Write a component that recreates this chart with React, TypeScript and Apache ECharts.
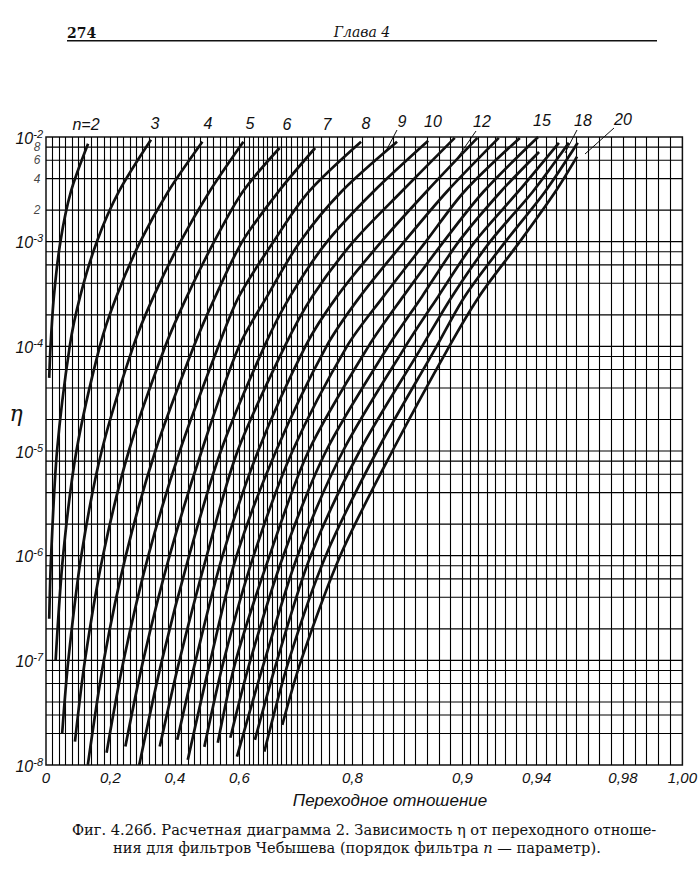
import React, { useEffect, useRef } from 'react';
import * as echarts from 'echarts';

// ---- axis definitions ----
const X_TICKS = [0, 0.2, 0.4, 0.6, 0.8, 0.9, 0.94, 0.98, 1.0];
const X_TICK_LABELS = ['0', '0,2', '0,4', '0,6', '0,8', '0,9', '0,94', '0,98', '1,00'];
// nonlinear transition-ratio scale of the chart paper: k -> position along the axis
const SCALE_K = [0, 0.6, 0.65, 0.7, 0.75, 0.8, 0.85, 0.9, 0.92, 0.94, 0.96, 0.98, 1.0];
const SCALE_POS = [0, 195, 219, 242, 270, 309, 361, 420, 453, 495, 535, 582, 642];
const Y_MIN = 1e-8;
const Y_MAX = 1e-2;
const Y_MINOR_LABELS = [2, 4, 6, 8];

// ---- curves: [transition ratio k, eta] ----
const CURVE_N2 = [[0.1306, 8.6e-3], [0.0773, 3e-3], [0.0447, 1e-3], [0.0245, 3e-4], [0.0141, 1e-4], [0.0100, 5e-5]];
const CURVE_N3 = [[0.3259, 9.4e-3], [0.2260, 3e-3], [0.1578, 1e-3], [0.1060, 3e-4], [0.0736, 1e-4], [0.0342, 1e-5], [0.0159, 1e-6], [0.0100, 2.5e-7]];
const CURVE_N4 = [[0.4854, 9e-3], [0.3789, 3e-3], [0.2926, 1e-3], [0.2187, 3e-4], [0.1670, 1e-4], [0.0944, 1e-5], [0.0531, 1e-6], [0.0299, 1e-7]];
const CURVE_N5 = [[0.6086, 9e-3], [0.5072, 3e-3], [0.4174, 1e-3], [0.3339, 3e-4], [0.2708, 1e-4], [0.1728, 1e-5], [0.1095, 1e-6], [0.0692, 1e-7], [0.0502, 2e-8]];
const CURVE_N6 = [[0.6861, 7.85e-3], [0.6072, 3e-3], [0.5220, 1e-3], [0.4377, 3e-4], [0.3702, 1e-4], [0.2571, 1e-5], [0.1768, 1e-6], [0.1209, 1e-7], [0.0899, 1.67e-8]];
const CURVE_N7 = [[0.7519, 7.85e-3], [0.6834, 3e-3], [0.6062, 1e-3], [0.5260, 3e-4], [0.4589, 1e-4], [0.3394, 1e-5], [0.2478, 1e-6], [0.1797, 1e-7], [0.1298, 1e-8]];
const CURVE_N8 = [[0.8085, 9e-3], [0.7413, 3e-3], [0.6728, 1e-3], [0.5990, 3e-4], [0.5350, 1e-4], [0.4153, 1e-5], [0.3177, 1e-6], [0.2410, 1e-7], [0.1880, 1.31e-8]];
const CURVE_N9 = [[0.8434, 9e-3], [0.7858, 3e-3], [0.7255, 1e-3], [0.6588, 3e-4], [0.5991, 1e-4], [0.4832, 1e-5], [0.3837, 1e-6], [0.3017, 1e-7], [0.2463, 1.5e-8]];
const CURVE_N10 = [[0.8708, 9.2e-3], [0.8204, 3e-3], [0.7674, 1e-3], [0.7076, 3e-4], [0.6528, 1e-4], [0.5428, 1e-5], [0.4443, 1e-6], [0.3599, 1e-7], [0.2894, 1e-8]];
const CURVE_N11 = [[0.8935, 9.8e-3], [0.8476, 3e-3], [0.8010, 1e-3], [0.7475, 3e-4], [0.6976, 1e-4], [0.5947, 1e-5], [0.4991, 1e-6], [0.4143, 1e-7], [0.3531, 1.5e-8]];
const CURVE_N12 = [[0.9092, 9.8e-3], [0.8692, 3e-3], [0.8282, 1e-3], [0.7803, 3e-4], [0.7351, 1e-4], [0.6396, 1e-5], [0.5481, 1e-6], [0.4645, 1e-7], [0.4074, 1.74e-8]];
const CURVE_N13 = [[0.9218, 9.8e-3], [0.8867, 3e-3], [0.8504, 1e-3], [0.8076, 3e-4], [0.7666, 1e-4], [0.6784, 1e-5], [0.5917, 1e-6], [0.5104, 1e-7], [0.4401, 1.12e-8]];
const CURVE_N14 = [[0.9319, 9.8e-3], [0.9011, 3e-3], [0.8688, 1e-3], [0.8303, 3e-4], [0.7931, 1e-4], [0.7119, 1e-5], [0.6302, 1e-6], [0.5519, 1e-7], [0.4915, 1.49e-8]];
const CURVE_N15 = [[0.9407, 1e-2], [0.9129, 3e-3], [0.8840, 1e-3], [0.8494, 3e-4], [0.8157, 1e-4], [0.7409, 1e-5], [0.6643, 1e-6], [0.5894, 1e-7], [0.5333, 1.63e-8]];
const CURVE_N16 = [[0.9412, 7.2e-3], [0.9227, 3e-3], [0.8969, 1e-3], [0.8656, 3e-4], [0.8349, 1e-4], [0.7661, 1e-5], [0.6944, 1e-6], [0.6232, 1e-7], [0.5722, 1.82e-8]];
const CURVE_N17 = [[0.9512, 8.8e-3], [0.9311, 3e-3], [0.9077, 1e-3], [0.8794, 3e-4], [0.8514, 1e-4], [0.7880, 1e-5], [0.7211, 1e-6], [0.6535, 1e-7], [0.5928, 1.2e-8]];
const CURVE_N18 = [[0.9562, 8.8e-3], [0.9381, 3e-3], [0.9170, 1e-3], [0.8912, 3e-4], [0.8656, 1e-4], [0.8072, 1e-5], [0.7447, 1e-6], [0.6808, 1e-7], [0.6328, 1.74e-8]];
const CURVE_N19 = [[0.9606, 8.8e-3], [0.9442, 3e-3], [0.9250, 1e-3], [0.9015, 3e-4], [0.8780, 1e-4], [0.8240, 1e-5], [0.7657, 1e-6], [0.7054, 1e-7], [0.6527, 1.34e-8]];
const CURVE_N20 = [[0.9603, 6.5e-3], [0.9494, 3e-3], [0.9319, 1e-3], [0.9103, 3e-4], [0.8888, 1e-4], [0.8389, 1e-5], [0.7844, 1e-6], [0.7275, 1e-7], [0.6921, 2.42e-8]];

const ORDERS = [2, 3, 4, 5, 6, 7, 8, 9, 10, 11, 12, 13, 14, 15, 16, 17, 18, 19, 20];
const CURVES = [CURVE_N2, CURVE_N3, CURVE_N4, CURVE_N5, CURVE_N6, CURVE_N7, CURVE_N8, CURVE_N9, CURVE_N10,
  CURVE_N11, CURVE_N12, CURVE_N13, CURVE_N14, CURVE_N15, CURVE_N16, CURVE_N17, CURVE_N18, CURVE_N19, CURVE_N20];

const CURVE_LABELS = ['n=2', '3', '4', '5', '6', '7', '8', '9', '10', '12', '15', '18', '20'];

// ---- texts ----
const PAGE_NUMBER = '274';
const PAGE_HEADER = 'Глава 4';
const X_TITLE = 'Переходное отношение';
const Y_TITLE = 'η';
const CAPTION_1 = 'Фиг. 4.26б. Расчетная диаграмма 2. Зависимость η от переходного отноше-';
const CAPTION_2 = 'ния для фильтров Чебышева (порядок фильтра {i|n} — параметр).';

const LABEL_FONT = '"Liberation Sans", "DejaVu Sans", sans-serif';
const SERIF_FONT = '"DejaVu Serif", "Liberation Serif", serif';
const INK = '#111';

function posOf(k: number): number {
  for (let i = 1; i < SCALE_K.length; i++) {
    if (k <= SCALE_K[i]) {
      const t = (k - SCALE_K[i - 1]) / (SCALE_K[i] - SCALE_K[i - 1]);
      return SCALE_POS[i - 1] + t * (SCALE_POS[i] - SCALE_POS[i - 1]);
    }
  }
  return SCALE_POS[SCALE_POS.length - 1];
}

function buildVGrid(): number[] {
  const out: number[] = [];
  for (let i = 1; i < 30; i++) out.push(i * 0.02);
  for (let i = 60; i < 90; i++) out.push(i / 100);
  for (let i = 180; i < 196; i++) out.push(i / 200);
  for (let i = 245; i < 250; i++) out.push(i / 250);
  return out;
}

function buildHGrid(): number[] {
  const out: number[] = [];
  for (let e = -8; e <= -3; e++) {
    for (const m of [1, 2, 4, 6, 8]) {
      const v = m * Math.pow(10, e);
      if (v > Y_MIN * 1.0001 && v < Y_MAX * 0.9999) out.push(v);
    }
  }
  out.push(3e-8);
  return out;
}

export default function App() {
  const ref = useRef<HTMLDivElement>(null);

  useEffect(() => {
    if (!ref.current) return;
    const chart = echarts.init(ref.current, undefined, { renderer: 'svg' });

    const gridLeft = 46;
    const gridTop = 137;
    const gridW = 642;
    const gridH = 628;

    const tickPos = X_TICKS.map(posOf);

    const vMarks: any[] = buildVGrid().map((k) => ({ xAxis: posOf(k) }));

    const hSeries = buildHGrid().map((v) => ({
      type: 'line',
      data: [[0, v], [gridW, v]],
      symbol: 'none',
      showSymbol: false,
      silent: true,
      z: 1,
      lineStyle: { color: '#000', width: 1.1 },
    }));

    const minorLabelData = Y_MINOR_LABELS.map((m) => ({ value: [0, m * 1e-3], label: { formatter: String(m) } }));
    const minorLabelSeries = {
      type: 'scatter',
      data: minorLabelData,
      symbolSize: 1,
      silent: true,
      z: 2,
      itemStyle: { color: 'transparent' },
      label: {
        show: true,
        position: 'left',
        distance: 5,
        fontSize: 12,
        lineHeight: 12,
        fontStyle: 'italic',
        fontFamily: LABEL_FONT,
        color: INK,
      },
    };

    const curveSeries = CURVES.map((c, idx) => ({
      name: 'n=' + ORDERS[idx],
      type: 'line',
      data: c.map(([k, eta]) => [posOf(k), eta]),
      smooth: 0.3,
      showSymbol: false,
      symbol: 'none',
      silent: true,
      z: 5,
      lineStyle: { color: INK, width: 2.7 },
    }));

    const graphics: any[] = [];
    const txt = (text: string, x: number, y: number, font: string, align = 'center', extra: any = {}) => ({
      type: 'text',
      x,
      y,
      silent: true,
      style: {
        text,
        font,
        fill: INK,
        align,
        verticalAlign: 'middle',
        textAlign: align,
        textVerticalAlign: 'middle',
        ...extra,
      },
    });

    graphics.push(txt(PAGE_NUMBER, 67, 33, `bold 14px ${SERIF_FONT}`, 'left'));
    graphics.push(txt(PAGE_HEADER, 362, 32, `italic 14px ${SERIF_FONT}`, 'center'));
    graphics.push({ type: 'rect', shape: { x: 67, y: 40, width: 590, height: 1.6 }, style: { fill: INK }, silent: true });

    const labelX = [86, 155, 208, 250, 287, 327, 366, 402, 433, 482, 542, 583, 623];
    const labelY = [124, 123, 123, 123, 124, 124, 123, 121, 121, 121, 120, 120, 119];
    CURVE_LABELS.forEach((t, i) => {
      graphics.push(txt(t, labelX[i], labelY[i], `italic 16px ${LABEL_FONT}`, 'center'));
    });
    const leaders = [
      [397, 130, 386, 151],
      [476, 131, 458, 157],
      [577, 130, 565, 153],
      [614, 128, 585, 154],
    ];
    leaders.forEach(([x1, y1, x2, y2]) =>
      graphics.push({ type: 'line', shape: { x1, y1, x2, y2 }, style: { stroke: INK, lineWidth: 1 }, silent: true })
    );

    graphics.push(txt(Y_TITLE, 16, 413, `italic 22px ${SERIF_FONT}`, 'center'));
    graphics.push(txt(X_TITLE, 390, 800, `italic 17px ${LABEL_FONT}`, 'center'));
    graphics.push(txt(CAPTION_1, 72, 829, `14.6px ${SERIF_FONT}`, 'left'));
    graphics.push(
      txt(CAPTION_2, 113, 847, `14.6px ${SERIF_FONT}`, 'left', {
        rich: { i: { fontStyle: 'italic', fontSize: 14.6, fontFamily: SERIF_FONT, fill: INK } },
      })
    );

    const option: any = {
      animation: false,
      backgroundColor: '#fff',
      grid: {
        left: gridLeft,
        top: gridTop,
        width: gridW,
        height: gridH,
        show: true,
        borderColor: INK,
        borderWidth: 1.5,
        backgroundColor: 'transparent',
        containLabel: false,
      },
      xAxis: {
        type: 'value',
        min: 0,
        max: gridW,
        axisLine: { show: false },
        axisTick: { show: false },
        splitLine: { show: false },
        axisLabel: {
          customValues: tickPos,
          formatter: (v: number) => {
            let best = 0;
            let bd = Infinity;
            tickPos.forEach((p, i) => {
              const d = Math.abs(p - v);
              if (d < bd) { bd = d; best = i; }
            });
            return X_TICK_LABELS[best];
          },
          fontSize: 15,
          fontStyle: 'italic',
          fontFamily: LABEL_FONT,
          color: INK,
          margin: 5,
          showMinLabel: true,
          showMaxLabel: true,
        },
      },
      yAxis: {
        type: 'log',
        logBase: 10,
        min: Y_MIN,
        max: Y_MAX,
        axisLine: { show: false },
        axisTick: { show: false },
        splitLine: { show: false },
        axisLabel: {
          margin: 3,
          formatter: (v: number) => {
            const e = Math.round(Math.log10(v));
            return `{b|10}{s|${e}}`;
          },
          rich: {
            b: { fontSize: 16, fontStyle: 'italic', fontFamily: LABEL_FONT, color: INK, verticalAlign: 'bottom', lineHeight: 18, padding: [2, 0, 0, 0] },
            s: { fontSize: 11, fontStyle: 'italic', fontFamily: LABEL_FONT, color: INK, verticalAlign: 'top', lineHeight: 11 },
          },
        },
      },
      series: [
        {
          name: 'vgrid',
          type: 'line',
          data: [[0, Y_MIN], [gridW, Y_MIN]],
          showSymbol: false,
          symbol: 'none',
          silent: true,
          z: 1,
          lineStyle: { opacity: 0 },
          markLine: {
            silent: true,
            symbol: ['none', 'none'],
            animation: false,
            label: { show: false },
            emphasis: { disabled: true },
            lineStyle: { color: '#000', width: 1.1, type: 'solid' },
            data: vMarks,
          },
        },
        ...hSeries,
        minorLabelSeries,
        ...curveSeries,
      ],
      graphic: graphics,
    };

    chart.setOption(option);
    return () => chart.dispose();
  }, []);

  return (
    <div
      ref={ref}
      style={{ position: 'fixed', left: 0, top: 0, width: 700, height: 875, background: '#fff' }}
    />
  );
}
